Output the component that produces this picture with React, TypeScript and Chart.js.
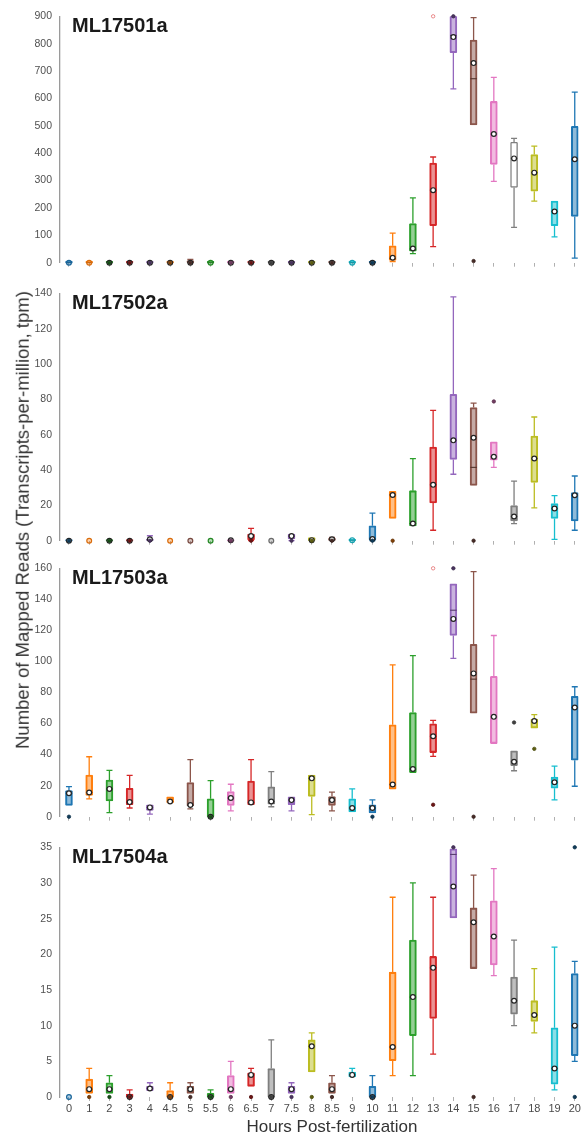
import React, { useEffect, useRef } from "react";
import { Chart, registerables } from "chart.js";

Chart.register(...registerables);

const FONT = '"Liberation Sans", Arial, Helvetica, sans-serif';

const categories = ["0", "1", "2", "3", "4", "4.5", "5", "5.5", "6", "6.5", "7", "7.5", "8", "8.5", "9", "10", "11", "12", "13", "14", "15", "16", "17", "18", "19", "20"];
const categoryColors = ["#1f77b4", "#ff7f0e", "#2ca02c", "#d62728", "#9467bd", "#ff7f0e", "#8c564b", "#2ca02c", "#e377c2", "#d62728", "#7f7f7f", "#9467bd", "#bcbd22", "#8c564b", "#17becf", "#1f77b4", "#ff7f0e", "#2ca02c", "#d62728", "#9467bd", "#8c564b", "#e377c2", "#7f7f7f", "#bcbd22", "#17becf", "#1f77b4"];

// ---- ML17501a ----
const p1Min = [0, 0, 0, 0, 0, 0, 0, 0, 0, 0, 0, 0, 0, 0, 0, 0, 4, 33, 59, 635, 503, 297, 129, 225, 94, 17];
const p1Q1 = [0, 0, 0, 0, 0, 0, 0, 0, 0, 0, 0, 0, 0, 0, 0, 0, 8, 42, 135, 767, 503, 359, 275, 261, 135, 169];
const p1Median = [0, 0, 0, 0, 0, 0, 0, 0, 0, 0, 0, 0, 0, 0, 0, 0, 15, 50, 265, 830, 672, 470, 381, 329, 187, 378];
const p1Q3 = [5, 5, 5, 5, 5, 5, 8, 5, 5, 5, 5, 5, 5, 5, 5, 5, 62, 143, 364, 900, 813, 589, 440, 395, 225, 498];
const p1Max = [5, 5, 5, 5, 5, 5, 12, 5, 5, 5, 5, 5, 5, 5, 5, 5, 108, 237, 386, 900, 895, 677, 454, 426, 225, 623];
const p1Mean = [0, 0, 0, 0, 0, 0, 0, 0, 0, 0, 0, 0, 0, 0, 0, 0, 18, 52, 265, 824, 729, 470, 381, 329, 187, 378];
const p1Outliers = [[2, 0, 0], [3, 0, 0], [4, 0, 0], [5, 0, 0], [6, 0, 0], [8, 0, 0], [9, 0, 0], [10, 0, 0], [11, 0, 0], [12, 0, 0], [13, 0, 0], [15, 0, 0], [18, 900, 1], [19, 900, 0], [20, 6, 0]];

// ---- ML17502a ----
const p2Min = [0, 0, 0, 0, 0, 0, 0, 0, 0, 0, 0, 0, 0, 0, 0, 0, 12.6, 8.4, 5.9, 37.6, 31.3, 41.5, 9.7, 18.6, 0.7, 5.9];
const p2Q1 = [0, 0, 0, 0, 0, 0, 0, 0, 0, 0.5, 0, 1, 0, 0, 0, 0.5, 12.6, 8.4, 21.4, 46, 31.3, 45.6, 11.2, 33, 12.6, 11.2];
const p2Median = [0, 0, 0, 0, 0.5, 0, 0, 0, 0, 2.6, 0, 2.6, 0.3, 0.8, 0.3, 0.9, 25.9, 9.7, 31.6, 56.8, 41.5, 47.5, 13.7, 46.5, 18.2, 25.7];
const p2Q3 = [0.6, 0, 0.6, 0.6, 1, 0, 0, 0, 0.6, 3.7, 0, 3.7, 1.8, 1.5, 0.8, 8.4, 27.9, 28.3, 53, 82.8, 75.4, 56, 19.9, 59.2, 21, 27.2];
const p2Max = [0.6, 0, 0.6, 0.6, 2.8, 0, 0, 0, 0.6, 7, 0, 3.7, 1.8, 1.8, 0.8, 15.6, 27.9, 46.5, 73.7, 138, 77.8, 56, 33.7, 70, 25.5, 36.6];
const p2Mean = [0, 0, 0, 0, 0.8, 0, 0, 0, 0.2, 2.6, 0, 2.6, 0.3, 0.8, 0.3, 0.9, 25.9, 9.7, 31.6, 56.8, 58.3, 47.5, 13.7, 46.5, 18.2, 25.7];
const p2Outliers = [[0, 0, 0], [2, 0, 0], [3, 0, 0], [4, 0, 0], [8, 0, 0], [9, 0, 0], [11, 0, 0], [12, 0, 0], [13, 0, 0], [15, 0, 0], [16, 0, 0], [20, 0, 0], [21, 78.8, 0]];

// ---- ML17503a ----
const p3Min = [7.3, 11.5, 2.6, 5.6, 1.7, 8.8, 5, 0, 3.8, 7.7, 6.4, 3.8, 1.3, 3.8, 3, 2.4, 17.7, 28.4, 38.8, 102, 66.7, 47.1, 29.6, 57.1, 10.9, 19.6];
const p3Q1 = [7.3, 13.7, 10.2, 7.7, 4.1, 8.8, 7, 0, 7.3, 7.7, 8.1, 7.7, 13, 7.3, 3, 2.4, 17.7, 28.4, 41.3, 116.7, 66.7, 47.1, 32.8, 57.1, 18.3, 36.4];
const p3Median = [15.1, 15.6, 17.9, 9.4, 6, 9.8, 7.5, 0, 12, 9.2, 9.8, 10.7, 24.7, 10.7, 5.6, 5.6, 20.7, 30.7, 51.8, 133, 88.6, 64.3, 35.4, 61.6, 22.2, 70.3];
const p3Q3 = [16.9, 26.8, 23.6, 18.3, 7.7, 12.8, 22, 11.5, 16.2, 23, 19.2, 12.8, 26.8, 13, 11.5, 7.7, 59.2, 67.1, 59.9, 150, 111, 90.4, 42.4, 62.9, 25.6, 77.6];
const p3Max = [19.4, 38.6, 29.8, 26.6, 7.7, 12.8, 36.7, 23.2, 20.9, 36.7, 29, 12.8, 26.8, 15.8, 17.9, 10.9, 97.8, 103.8, 62, 150, 157.8, 116.7, 42.4, 65.8, 32.6, 83.7];
const p3Mean = [15.1, 15.6, 17.9, 9.4, 6, 9.8, 7.5, 0, 12, 9.2, 9.8, 10.7, 24.7, 10.7, 5.6, 5.6, 20.7, 30.7, 51.8, 127.4, 92.3, 64.3, 35.4, 61.6, 22.2, 70.3];
const p3Outliers = [[0, 0, 0], [7, 0, 0], [15, 0, 0], [18, 7.7, 0], [18, 160, 1], [19, 160, 0], [20, 0, 0], [22, 60.7, 0], [23, 43.7, 0]];

// ---- ML17504a ----
const p4Min = [0, 0.5, 0.5, 0, 0.9, 0, 0.5, 0, 0.5, 1.5, 0, 0.5, 3.5, 0.5, 2.8, 0, 3, 3, 6, 25.1, 18, 17, 10, 9, 1, 5];
const p4Q1 = [0, 0.5, 0.5, 0, 0.9, 0, 0.5, 0, 0.5, 1.5, 0, 0.5, 3.5, 0.5, 2.8, 0, 5.1, 8.6, 11, 25.1, 18, 18.5, 11.6, 10.6, 1.8, 5.8];
const p4Median = [0, 1.1, 1.1, 0, 1.2, 0, 1.1, 0, 1.1, 3.1, 0, 1.1, 7.1, 1.1, 3.1, 0, 7, 14, 18.1, 34, 24.5, 22.5, 13.5, 11.5, 4, 10];
const p4Q3 = [0, 2.5, 2, 0.4, 1.5, 0.9, 1.5, 0.5, 3, 3.4, 4, 1.5, 8, 2, 3.5, 1.5, 17.5, 22, 19.7, 34.8, 26.5, 27.5, 16.8, 13.5, 9.7, 17.3];
const p4Max = [0, 4, 3, 1, 2, 2, 2, 1, 5, 4, 8, 2, 9, 3, 4, 3, 28, 30, 28, 34.8, 31.1, 32, 22, 18, 21, 19];
const p4Mean = [0, 1.1, 1.1, 0, 1.2, 0, 1.1, 0, 1.1, 3.1, 0, 1.1, 7.1, 1.1, 3.1, 0, 7, 14, 18.1, 29.5, 24.5, 22.5, 13.5, 11.5, 4, 10];
const p4Outliers = [[1, 0, 0], [2, 0, 0], [3, 0, 0], [5, 0, 0], [6, 0, 0], [7, 0, 0], [8, 0, 0], [9, 0, 0], [10, 0, 0], [11, 0, 0], [12, 0, 0], [13, 0, 0], [15, 0, 0], [19, 35, 0], [20, 0, 0], [25, 35, 0], [25, 0, 0]];

const yTitle = "Number of Mapped Reads (Transcripts-per-million, tpm)";
const xTitle = "Hours Post-fertilization";

function hexToRgb(h: string) {
  const n = parseInt(h.slice(1), 16);
  return [(n >> 16) & 255, (n >> 8) & 255, n & 255];
}
function rgba(h: string, a: number) {
  const [r, g, b] = hexToRgb(h);
  return `rgba(${r},${g},${b},${a})`;
}
function shade(h: string, f: number) {
  const [r, g, b] = hexToRgb(h);
  return `rgb(${Math.round(r * f)},${Math.round(g * f)},${Math.round(b * f)})`;
}

const panels = [
  { name: "ML17501a", yMax: 900, yStep: 100, min: p1Min, q1: p1Q1, median: p1Median, q3: p1Q3, max: p1Max, mean: p1Mean, outliers: p1Outliers, whiteFill: [22], lightMean: [0, 1, 7, 14], chartTop: 16, chartBottom: 265, showLabels: false },
  { name: "ML17502a", yMax: 140, yStep: 20, min: p2Min, q1: p2Q1, median: p2Median, q3: p2Q3, max: p2Max, mean: p2Mean, outliers: p2Outliers, whiteFill: [], lightMean: [1, 5, 6, 7, 10, 14], chartTop: 293, chartBottom: 543, showLabels: false },
  { name: "ML17503a", yMax: 160, yStep: 20, min: p3Min, q1: p3Q1, median: p3Median, q3: p3Q3, max: p3Max, mean: p3Mean, outliers: p3Outliers, whiteFill: [], lightMean: [], chartTop: 568, chartBottom: 819, showLabels: false },
  { name: "ML17504a", yMax: 35, yStep: 5, min: p4Min, q1: p4Q1, median: p4Median, q3: p4Q3, max: p4Max, mean: p4Mean, outliers: p4Outliers, whiteFill: [], lightMean: [0], chartTop: 847, chartBottom: 1097, showLabels: true },
];

function BoxPanel({ p }: { p: any }) {
  const ref = useRef<HTMLCanvasElement>(null);
  const padTop = 14;
  const xHeight = p.showLabels ? 26 : 12;
  const h = p.chartBottom - p.chartTop + padTop + xHeight;

  useEffect(() => {
    const canvas = ref.current;
    if (!canvas) return;
    const colors = categoryColors;
    const fills = categories.map((_, i) => (p.whiteFill.includes(i) ? "#ffffff" : rgba(colors[i], 0.5)));
    const boxData = categories.map((_, i) => ({ x: i, y: [p.q1[i], p.q3[i]] }));
    const meanData = categories.map((_, i) => ({ x: i, y: p.mean[i] }));
    const meanBorder = categories.map((_, i) => (p.lightMean.includes(i) ? shade(colors[i], 0.85) : "#222222"));
    const meanFill = categories.map((_, i) => (p.lightMean.includes(i) ? rgba(colors[i], 0.35) : "#ffffff"));
    const outData = p.outliers.map((o: number[]) => ({ x: o[0], y: o[1] }));
    const outFill = p.outliers.map((o: number[]) => (o[2] ? "#ffffff" : shade(colors[o[0]], 0.5)));
    const outBorder = p.outliers.map((o: number[]) => (o[2] ? rgba(colors[o[0]], 0.65) : shade(colors[o[0]], 0.4)));

    const whiskerPlugin = {
      id: "whiskers",
      beforeDatasetsDraw(chart: any) {
        const { ctx, scales } = chart;
        const x = scales.x, y = scales.y;
        ctx.save();
        ctx.lineWidth = 1.3;
        categories.forEach((_, i) => {
          const px = x.getPixelForValue(i);
          ctx.strokeStyle = colors[i];
          ctx.beginPath();
          if (p.max[i] > p.q3[i]) {
            const a = y.getPixelForValue(p.q3[i]);
            const b = y.getPixelForValue(p.max[i]);
            ctx.moveTo(px, a);
            ctx.lineTo(px, b);
            ctx.moveTo(px - 3, b);
            ctx.lineTo(px + 3, b);
          }
          if (p.min[i] < p.q1[i]) {
            const a = y.getPixelForValue(p.q1[i]);
            const b = y.getPixelForValue(p.min[i]);
            ctx.moveTo(px, a);
            ctx.lineTo(px, b);
            ctx.moveTo(px - 3, b);
            ctx.lineTo(px + 3, b);
          }
          ctx.stroke();
        });
        ctx.restore();
      },
      afterDatasetDraw(chart: any, args: any) {
        if (args.index !== 0) return;
        const { ctx, scales } = chart;
        const x = scales.x, y = scales.y;
        ctx.save();
        ctx.lineWidth = 1.1;
        categories.forEach((_, i) => {
          if (p.q3[i] - p.q1[i] <= 0) return;
          const px = x.getPixelForValue(i);
          const py = y.getPixelForValue(p.median[i]);
          ctx.strokeStyle = shade(colors[i], 0.6);
          ctx.beginPath();
          ctx.moveTo(px - 3.3, py);
          ctx.lineTo(px + 3.3, py);
          ctx.stroke();
        });
        ctx.restore();
      },
    };

    const chart = new Chart(canvas, {
      type: "bar",
      data: {
        datasets: [
          {
            type: "bar",
            data: boxData as any,
            backgroundColor: fills,
            borderColor: colors,
            borderWidth: 1.4,
            borderSkipped: false,
            borderRadius: 1,
            barThickness: 7,
            order: 3,
          } as any,
          {
            type: "line",
            data: meanData as any,
            showLine: false,
            pointRadius: 2.4,
            pointBackgroundColor: meanFill,
            pointBorderColor: meanBorder,
            pointBorderWidth: 1.2,
            clip: false,
            order: 2,
          } as any,
          {
            type: "line",
            data: outData as any,
            showLine: false,
            pointRadius: 1.7,
            pointBackgroundColor: outFill,
            pointBorderColor: outBorder,
            pointBorderWidth: 0.8,
            clip: false,
            order: 1,
          } as any,
        ],
      },
      options: {
        responsive: false,
        maintainAspectRatio: false,
        animation: false,
        events: [],
        layout: { padding: { top: padTop, right: 3, bottom: 0, left: 0 } },
        plugins: { legend: { display: false }, tooltip: { enabled: false }, title: { display: false } },
        scales: {
          x: {
            type: "linear",
            offset: false,
            min: -0.443,
            max: 25.2,
            afterBuildTicks: (s: any) => {
              s.ticks = categories.map((_, i) => ({ value: i }));
            },
            afterFit: (s: any) => {
              s.height = xHeight;
            },
            ticks: {
              display: p.showLabels,
              autoSkip: false,
              maxRotation: 0,
              padding: 1,
              color: "#4a4a4a",
              font: { family: FONT, size: 11 },
              callback: (v: any) => categories[Math.round(Number(v))] ?? "",
            },
            grid: { display: true, offset: false, drawOnChartArea: false, drawTicks: true, tickLength: 4, color: "#b0b0b0", lineWidth: 1 },
            border: { display: false },
          },
          y: {
            type: "linear",
            min: 0,
            max: p.yMax,
            afterFit: (s: any) => {
              s.width = 60;
            },
            ticks: {
              stepSize: p.yStep,
              padding: 8,
              color: "#505050",
              font: { family: FONT, size: 10.5 },
            },
            grid: { display: false, drawTicks: false },
            border: { display: true, color: "#9a9a9a", width: 1.3 },
          },
        },
      } as any,
      plugins: [whiskerPlugin],
    });
    return () => chart.destroy();
  }, []);

  return (
    <>
      <canvas
        ref={ref}
        width={584}
        height={h}
        style={{ position: "absolute", left: 0, top: p.chartTop - padTop, width: 584, height: h }}
      />
      <div
        style={{
          position: "absolute",
          left: 72,
          top: p.chartTop - 1,
          font: `bold 20px ${FONT}`,
          lineHeight: "20px",
          color: "#1a1a1a",
          whiteSpace: "nowrap",
        }}
      >
        {p.name}
      </div>
    </>
  );
}

export default function App() {
  return (
    <div style={{ position: "absolute", left: 0, top: 0, width: 584, height: 1136, background: "#ffffff", overflow: "hidden", fontFamily: FONT }}>
      {panels.map((p) => (
        <BoxPanel key={p.name} p={p} />
      ))}
      <div
        style={{
          position: "absolute",
          left: 23,
          top: 520,
          transform: "translate(-50%, -50%) rotate(-90deg)",
          whiteSpace: "nowrap",
          fontSize: 18.5,
          lineHeight: 1,
          color: "#333333",
        }}
      >
        {yTitle}
      </div>
      <div
        style={{
          position: "absolute",
          left: 332,
          top: 1126,
          transform: "translate(-50%, -50%)",
          whiteSpace: "nowrap",
          fontSize: 17,
          lineHeight: 1,
          color: "#333333",
        }}
      >
        {xTitle}
      </div>
    </div>
  );
}
